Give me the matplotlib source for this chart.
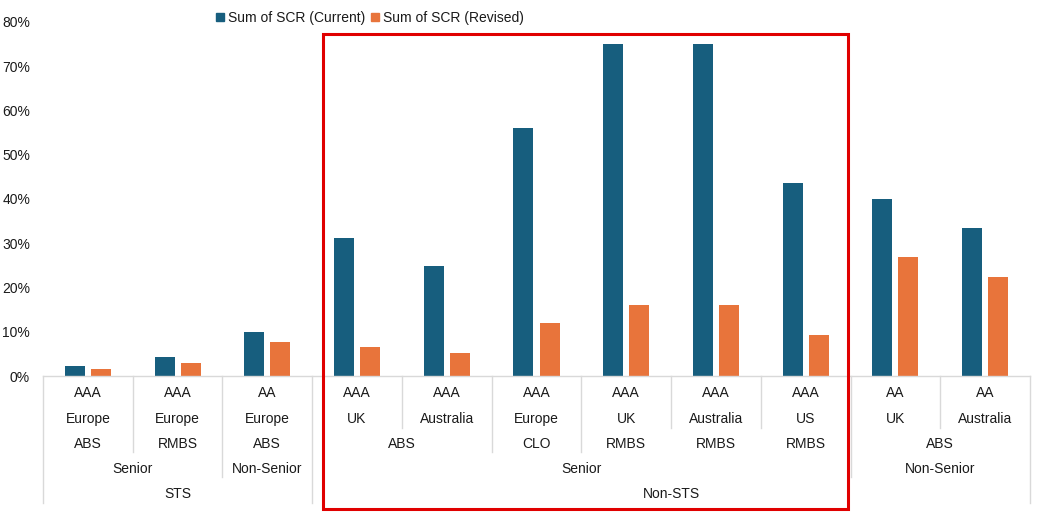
import matplotlib.pyplot as plt
import matplotlib.transforms as mtransforms
from matplotlib.patches import Rectangle
from matplotlib.lines import Line2D
import numpy as np

plt.rcParams['font.family'] = ['Liberation Sans', 'DejaVu Sans']
plt.rcParams['font.size'] = 10

# Data (SCR in %)
ratings = ['AAA', 'AAA', 'AA', 'AAA', 'AAA', 'AAA', 'AAA', 'AAA', 'AAA', 'AA', 'AA']
regions = ['Europe', 'Europe', 'Europe', 'UK', 'Australia', 'Europe', 'UK', 'Australia', 'US', 'UK', 'Australia']
scr_current = [2.3, 4.3, 9.9, 31.2, 24.9, 56.0, 75.0, 75.0, 43.6, 40.0, 33.4]
scr_revised = [1.6, 2.9, 7.7, 6.6, 5.2, 12.0, 16.0, 16.0, 9.3, 26.9, 22.4]

# Grouping levels: (label, first index, last index)
type_groups = [('ABS', 0, 0), ('RMBS', 1, 1), ('ABS', 2, 2), ('ABS', 3, 4), ('CLO', 5, 5),
               ('RMBS', 6, 6), ('RMBS', 7, 7), ('RMBS', 8, 8), ('ABS', 9, 10)]
seniority_groups = [('Senior', 0, 1), ('Non-Senior', 2, 2), ('Senior', 3, 8), ('Non-Senior', 9, 10)]
sts_groups = [('STS', 0, 2), ('Non-STS', 3, 10)]

blue = '#175E7E'
orange = '#E8743B'
grid_col = '#d9d9d9'
text_col = '#1a1a1a'

fig = plt.figure(figsize=(10.53, 5.19), dpi=100)
ax = fig.add_axes([43 / 1053, 143 / 519, 987 / 1053, 354 / 519])

x = np.arange(len(ratings))
w = 0.223
off = 0.145
ax.bar(x - off, scr_current, w, color=blue, label='Sum of SCR (Current)')
ax.bar(x + off, scr_revised, w, color=orange, label='Sum of SCR (Revised)')

ax.set_xlim(-0.5, len(ratings) - 0.5)
ax.set_ylim(0, 80)
ax.set_yticks(range(0, 81, 10))
ax.set_yticklabels([f'{v}%' for v in range(0, 81, 10)], color=text_col)
ax.tick_params(axis='y', length=0, pad=9.3)
ax.set_xticks([])
for s in ['top', 'right', 'left', 'bottom']:
    ax.spines[s].set_visible(False)
ax.axhline(0, color=grid_col, lw=1, clip_on=False)

# multi-level category axis
trans = mtransforms.blended_transform_factory(ax.transData, ax.transAxes)
row_y = [-0.048, -0.121, -0.192, -0.263, -0.333]
depth = {2: -0.147, 3: -0.215, 4: -0.285, 5: -0.359}

for i in x:
    ax.text(i, row_y[0], ratings[i], transform=trans, ha='center', va='center', color=text_col)
    ax.text(i, row_y[1], regions[i], transform=trans, ha='center', va='center', color=text_col)
for row, groups in [(2, type_groups), (3, seniority_groups), (4, sts_groups)]:
    for lab, a, b in groups:
        ax.text((a + b) / 2, row_y[row], lab, transform=trans, ha='center', va='center', color=text_col)

sep_rows = [5, 3, 4, 5, 2, 3, 3, 2, 2, 4, 2, 5]
for k, r in enumerate(sep_rows):
    xb = k - 0.5
    ax.plot([xb, xb], [0, depth[r]], transform=trans, color=grid_col, lw=1, clip_on=False)

# legend
handles = [Line2D([], [], marker='s', ls='', color=blue, markersize=6),
           Line2D([], [], marker='s', ls='', color=orange, markersize=6)]
fig.legend(handles, ['Sum of SCR (Current)', 'Sum of SCR (Revised)'], loc='center',
           bbox_to_anchor=(370 / 1053, 1 - 18 / 519), ncol=2, frameon=False,
           handlelength=0.6, handletextpad=0.3, columnspacing=0.4, labelcolor=text_col)

# highlight box
fig.patches.append(Rectangle((323 / 1053, 1 - 509 / 519), 525 / 1053, 475 / 519,
                             transform=fig.transFigure, fill=False, edgecolor='#e00000', lw=2.2))

fig.savefig('out.png', dpi=100)
